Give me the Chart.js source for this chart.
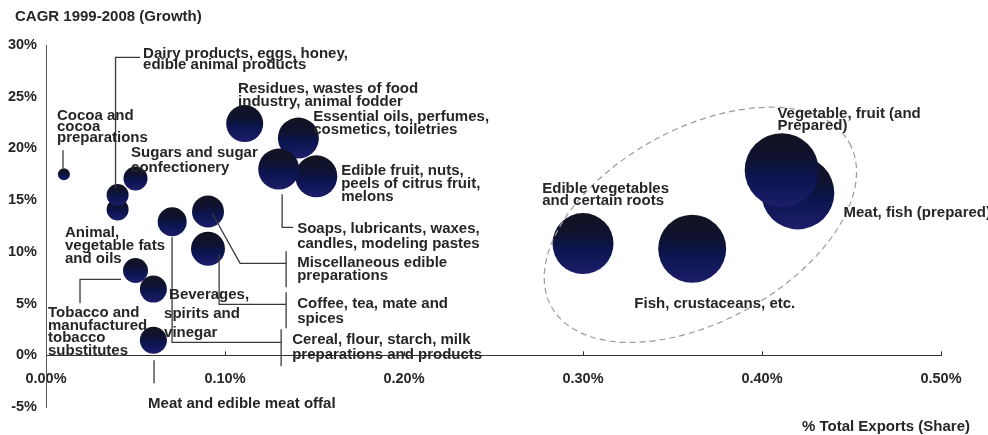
<!DOCTYPE html>
<html>
<head>
<meta charset="utf-8">
<script src="https://cdn.jsdelivr.net/npm/chart.js@4.4.1/dist/chart.umd.min.js"></script>
<style>
  html, body { margin: 0; padding: 0; background: #ffffff; }
  #wrap { width: 988px; height: 435px; }
</style>
</head>
<body>
<div id="wrap"><canvas id="c" width="988" height="435"></canvas></div>
<script>
// ---------- DATA ----------
const categories = [
  "Cocoa and cocoa preparations",
  "Sugars and sugar confectionery",
  "Animal, vegetable fats and oils",
  "Dairy products, eggs, honey, edible animal products",
  "Tobacco and manufactured tobacco substitutes",
  "Beverages, spirits and vinegar",
  "Meat and edible meat offal",
  "Cereal, flour, starch, milk preparations and products",
  "Miscellaneous edible preparations",
  "Coffee, tea, mate and spices",
  "Residues, wastes of food industry, animal fodder",
  "Essential oils, perfumes, cosmetics, toiletries",
  "Edible fruit, nuts, peels of citrus fruit, melons",
  "Soaps, lubricants, waxes, candles, modeling pastes",
  "Edible vegetables and certain roots",
  "Fish, crustaceans, etc.",
  "Meat, fish (prepared)",
  "Vegetable, fruit (and Prepared)"
];
// % of total exports (share)
const exportShare = [0.010, 0.050, 0.040, 0.040, 0.050, 0.060, 0.060, 0.0705, 0.0905, 0.0905,
                     0.111, 0.141, 0.151, 0.130, 0.300, 0.361, 0.420, 0.411];
// CAGR 1999-2008 (growth, %)
const cagrGrowth = [17.5, 17.1, 14.1, 15.5, 8.2, 6.4, 1.45, 12.9, 13.9, 10.3,
                    22.4, 21.0, 17.3, 18.0, 10.8, 10.3, 15.7, 17.9];
// bubble magnitude (radius)
const bubbleRadius = [6, 12, 11, 11, 12.5, 13.5, 13.5, 14.5, 16, 17,
                      18.5, 20.5, 21, 20.5, 30.5, 34, 36.5, 37];
const xTickValues = [0, 0.1, 0.2, 0.3, 0.4, 0.5];
const yTickValues = [-5, 0, 5, 10, 15, 20, 25, 30];

// ---------- LAYOUT / STYLE (reference-pixel frame) ----------
const TEXT_COLOR = "#262626";
const FONT_FAMILY = "'Liberation Sans', Arial, Helvetica, sans-serif";
const labelDefs = [
  { x: 143, y: 52,  lh: 11,   lines: ["Dairy products, eggs, honey,", "edible animal products"] },
  { x: 238, y: 87,  lh: 13,   lines: ["Residues, wastes of food", "industry, animal fodder"] },
  { x: 313, y: 115, lh: 13,   lines: ["Essential oils, perfumes,", "cosmetics, toiletries"] },
  { x: 57,  y: 114, lh: 11,   lines: ["Cocoa and", "cocoa", "preparations"] },
  { x: 131, y: 151, lh: 15,   lines: ["Sugars and sugar", "confectionery"] },
  { x: 341, y: 169, lh: 13,   lines: ["Edible fruit, nuts,", "peels of citrus fruit,", "melons"] },
  { x: 297, y: 227, lh: 15,   lines: ["Soaps, lubricants, waxes,", "candles, modeling pastes"] },
  { x: 297, y: 261, lh: 13.5, lines: ["Miscellaneous edible", "preparations"] },
  { x: 297, y: 302, lh: 15,   lines: ["Coffee, tea, mate and", "spices"] },
  { x: 292, y: 338, lh: 15,   lines: ["Cereal, flour, starch, milk", "preparations and products"] },
  { x: 65,  y: 231, lh: 13,   lines: ["Animal,", "vegetable fats", "and oils"] },
  { x: 48,  y: 311, lh: 12.7, lines: ["Tobacco and", "manufactured", "tobacco", "substitutes"] },
  { x: 169, y: 293, lh: 0,    lines: ["Beverages,"] },
  { x: 164, y: 312, lh: 19,   lines: ["spirits and", "vinegar"] },
  { x: 148, y: 402, lh: 0,    lines: ["Meat and edible meat offal"] },
  { x: 542, y: 187, lh: 12,   lines: ["Edible vegetables", "and certain roots"] },
  { x: 634, y: 302, lh: 0,    lines: ["Fish, crustaceans, etc."] },
  { x: 777, y: 112, lh: 12,   lines: ["Vegetable, fruit (and", "Prepared)"] },
  { x: 843, y: 211, lh: 0,    lines: ["Meat, fish (prepared)"] }
];
const leaderDefs = [
  [[63, 150], [63, 168]],
  [[140, 57], [115.5, 57], [115.5, 188]],
  [[80, 303], [80, 279], [121, 279]],
  [[172, 237], [172, 342], [281, 342]], [[281, 329], [281, 366]],
  [[219, 254], [219, 304], [286, 304]], [[286, 292], [286, 328]],
  [[212, 213], [240, 263], [286, 263]], [[286, 251], [286, 287]],
  [[282, 194], [282, 227], [293, 227]],
  [[154, 360], [154, 383]]
];
const ellipseDef = { cx: 700, cy: 224.5, a: 170, b: 96.5, rot: -28.7 };
const TEXT_DY = 1.5;

// map reference-frame pixels through the chart's own scales
function mapPt(chart, px, py) {
  const xs = chart.scales.x, ys = chart.scales.y;
  return [xs.getPixelForValue((px - 46) / 1789), ys.getPixelForValue((355 - py) / 10.343)];
}

const annotationPlugin = {
  id: 'annot',
  afterDatasetsDraw(chart) {
    const ctx = chart.ctx;
    const xs = chart.scales.x, ys = chart.scales.y;
    ctx.save();
    // dashed ellipse
    const c = mapPt(chart, ellipseDef.cx, ellipseDef.cy);
    ctx.beginPath();
    ctx.setLineDash([6, 4]);
    ctx.strokeStyle = "#9a9a9a";
    ctx.lineWidth = 1.2;
    ctx.ellipse(c[0], c[1], ellipseDef.a, ellipseDef.b, ellipseDef.rot * Math.PI / 180, 0, Math.PI * 2);
    ctx.stroke();
    ctx.setLineDash([]);
    // small inward ticks on x axis
    const y0 = ys.getPixelForValue(0);
    ctx.strokeStyle = "#333333";
    ctx.lineWidth = 1;
    xTickValues.forEach(v => {
      if (v === 0) return;
      const x = Math.round(xs.getPixelForValue(v)) + 0.5;
      ctx.beginPath(); ctx.moveTo(x, y0); ctx.lineTo(x, y0 - 4); ctx.stroke();
    });
    // leader lines
    ctx.strokeStyle = "#3a3a3a";
    ctx.lineWidth = 1.3;
    leaderDefs.forEach(pts => {
      ctx.beginPath();
      pts.forEach((p, i) => {
        const q = mapPt(chart, p[0], p[1]);
        if (i === 0) ctx.moveTo(q[0], q[1]); else ctx.lineTo(q[0], q[1]);
      });
      ctx.stroke();
    });
    // labels
    ctx.fillStyle = TEXT_COLOR;
    ctx.font = "bold 15px " + FONT_FAMILY;
    ctx.textBaseline = "middle";
    ctx.textAlign = "left";
    labelDefs.forEach(l => {
      l.lines.forEach((t, i) => {
        const q = mapPt(chart, l.x, l.y + i * l.lh);
        ctx.fillText(t, q[0], q[1] + TEXT_DY);
      });
    });
    // axis titles
    ctx.fillText("CAGR 1999-2008 (Growth)", 15, 15 + TEXT_DY);
    ctx.textAlign = "right";
    ctx.fillText("% Total Exports (Share)", 970, 425 + TEXT_DY);
    ctx.restore();
  }
};

function bubbleFill(context) {
  const chart = context.chart;
  const i = context.dataIndex;
  if (i === undefined || !chart.chartArea || !chart.scales.y) return "#0d1548";
  const y = chart.scales.y.getPixelForValue(cagrGrowth[i]);
  const r = bubbleRadius[i];
  const g = chart.ctx.createLinearGradient(0, y - r, 0, y + r);
  g.addColorStop(0, "#131320");
  g.addColorStop(0.35, "#0f1230");
  g.addColorStop(0.6, "#0b1550");
  g.addColorStop(1, "#1d1d6a");
  return g;
}

const points = categories.map((name, i) => ({ x: exportShare[i], y: cagrGrowth[i], r: bubbleRadius[i] }));

new Chart(document.getElementById('c'), {
  type: 'bubble',
  data: {
    datasets: [{
      label: 'Exports',
      data: points,
      backgroundColor: bubbleFill,
      borderWidth: 0,
      borderColor: 'rgba(0,0,0,0)',
      clip: false
    }]
  },
  options: {
    responsive: false,
    animation: false,
    events: [],
    layout: { autoPadding: false, padding: { left: 0, top: 45, right: 47, bottom: 28 } },
    plugins: { legend: { display: false }, tooltip: { enabled: false }, title: { display: false } },
    scales: {
      x: {
        type: 'linear',
        position: { y: 0 },
        min: 0, max: 0.5,
        afterBuildTicks: s => { s.ticks = xTickValues.map(v => ({ value: v })); },
        afterFit: s => { s.height = 0; },
        grid: { display: false, drawTicks: false },
        border: { display: true, color: '#333333', width: 1 },
        ticks: {
          padding: 15,
          color: TEXT_COLOR,
          font: { family: FONT_FAMILY, size: 14.5, weight: 'bold' },
          maxRotation: 0,
          callback: v => Number(v).toFixed(2) + '%'
        }
      },
      y: {
        type: 'linear',
        position: 'left',
        min: -5, max: 30,
        afterBuildTicks: s => { s.ticks = yTickValues.map(v => ({ value: v })); },
        afterFit: s => { s.width = 46; },
        grid: { display: false, drawTicks: false },
        border: { display: true, color: '#555555', width: 1 },
        ticks: {
          padding: 9,
          color: TEXT_COLOR,
          font: { family: FONT_FAMILY, size: 14.5, weight: 'bold' },
          callback: v => v + '%'
        }
      }
    }
  },
  plugins: [annotationPlugin]
});
</script>
</body>
</html>
